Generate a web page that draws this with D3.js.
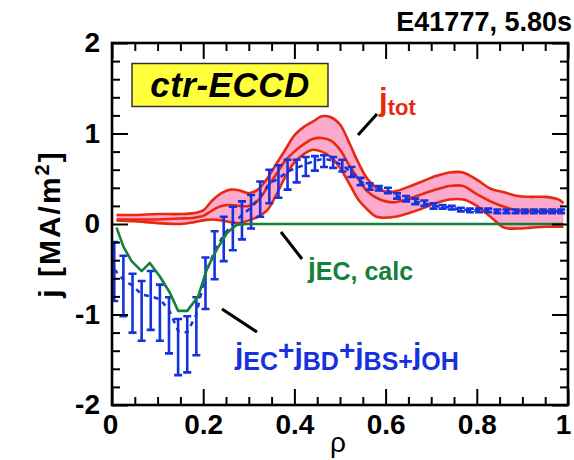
<!DOCTYPE html>
<html><head><meta charset="utf-8">
<script src="https://cdn.jsdelivr.net/npm/d3@7"></script>
<style>
html,body{margin:0;padding:0;background:#fff;}
svg{display:block;font-family:"Liberation Sans",Arial,Helvetica,sans-serif;}
</style></head><body>
<svg id="chart" width="574" height="460"></svg>
<script>
// total current density band: upper / central / lower profiles
const rhoTot    = [0.01,0.05,0.10,0.15,0.18,0.20,0.22,0.24,0.26,0.28,0.30,0.32,0.34,0.36,0.38,0.40,0.42,0.44,0.46,0.48,0.50,0.52,0.54,0.56,0.58,0.60,0.62,0.65,0.68,0.71,0.74,0.77,0.80,0.83,0.86,0.89,0.92,0.95,0.98,0.99];
const jTotUpper = [0.10,0.10,0.11,0.11,0.12,0.15,0.26,0.34,0.38,0.37,0.34,0.38,0.50,0.66,0.82,0.98,1.07,1.13,1.19,1.18,1.10,0.90,0.68,0.50,0.40,0.36,0.36,0.41,0.47,0.53,0.57,0.57,0.49,0.39,0.35,0.31,0.30,0.30,0.27,0.23];
const jTotMid   = [0.05,0.05,0.05,0.06,0.07,0.09,0.15,0.20,0.21,0.20,0.20,0.26,0.40,0.55,0.70,0.80,0.88,0.94,0.95,0.92,0.82,0.65,0.50,0.36,0.29,0.25,0.24,0.28,0.33,0.38,0.42,0.42,0.33,0.25,0.19,0.15,0.14,0.14,0.14,0.14];
const jTotLower = [0.04,0.03,0.01,0.00,0.02,0.04,0.05,0.04,0.02,0.01,0.04,0.08,0.15,0.32,0.52,0.68,0.77,0.82,0.80,0.74,0.62,0.45,0.27,0.16,0.08,0.07,0.08,0.12,0.17,0.23,0.27,0.27,0.20,0.08,-0.04,-0.05,-0.04,-0.03,-0.03,-0.03];

// calculated EC-driven current
const rhoEC   = [0.010,0.025,0.043,0.065,0.083,0.105,0.127,0.145,0.165,0.189,0.208,0.230,0.252,0.273,0.295,0.50,0.99];
const jECcalc = [-0.04,-0.25,-0.41,-0.52,-0.43,-0.58,-0.76,-0.96,-0.96,-0.80,-0.50,-0.28,-0.10,-0.01,0.00,0.00,0.00];

// j_EC + j_BD + j_BS + j_OH with error bars
const rhoSum = [0.005,0.025,0.045,0.065,0.085,0.105,0.125,0.145,0.165,0.185,0.205,0.225,0.245,0.265,0.285,0.305,0.325,0.345,0.365,0.385,0.405,0.425,0.445,0.465,0.485,0.505,0.525,0.545,0.565,0.585,0.605,0.625,0.645,0.665,0.685,0.705,0.725,0.745,0.765,0.785,0.805,0.825,0.845,0.865,0.885,0.905,0.925,0.945,0.965,0.985];
const jSum   = [-0.50,-0.62,-0.68,-0.78,-0.80,-0.83,-0.95,-1.18,-1.20,-1.00,-0.55,-0.30,-0.12,0.00,0.10,0.18,0.30,0.45,0.50,0.58,0.62,0.66,0.70,0.72,0.70,0.65,0.57,0.47,0.42,0.40,0.37,0.31,0.28,0.25,0.23,0.20,0.19,0.18,0.16,0.15,0.15,0.15,0.14,0.14,0.14,0.14,0.14,0.14,0.14,0.14];
const jSumHi = [-0.20,-0.35,-0.55,-0.63,-0.52,-0.67,-0.81,-1.05,-1.02,-0.81,-0.37,-0.08,0.08,0.19,0.25,0.32,0.47,0.60,0.65,0.71,0.71,0.74,0.75,0.76,0.74,0.71,0.63,0.51,0.45,0.42,0.40,0.34,0.31,0.28,0.26,0.23,0.21,0.20,0.18,0.17,0.17,0.17,0.16,0.16,0.16,0.16,0.16,0.16,0.16,0.16];
const jSumLo = [-0.85,-1.02,-1.20,-1.29,-1.17,-1.29,-1.43,-1.67,-1.64,-1.45,-0.94,-0.61,-0.41,-0.29,-0.17,-0.05,0.08,0.23,0.29,0.38,0.46,0.53,0.59,0.63,0.62,0.58,0.52,0.43,0.38,0.37,0.34,0.28,0.25,0.22,0.20,0.17,0.17,0.16,0.14,0.13,0.13,0.13,0.12,0.12,0.12,0.12,0.12,0.12,0.12,0.12];

const xMajor = [0,0.2,0.4,0.6,0.8,1];
const xMinor = [0.05,0.1,0.15,0.25,0.3,0.35,0.45,0.5,0.55,0.65,0.7,0.75,0.85,0.9,0.95];
const yMajor = [-2,-1,0,1,2];
const yMinor = [-1.8,-1.6,-1.4,-1.2,-0.8,-0.6,-0.4,-0.2,0.2,0.4,0.6,0.8,1.2,1.4,1.6,1.8];

const RED = "#e8290f", PINK = "#fcaacd", BLUE = "#1632dc", GREEN = "#14803a";

const svg = d3.select("#chart");
const L = 112, R = 568, T = 43, B = 405;
const x = d3.scaleLinear().domain([0, 1]).range([L, R]);
const y = d3.scaleLinear().domain([-2, 2]).range([B, T]);

const plot = svg.append("g");
svg.append("clipPath").attr("id", "clip")
  .append("rect").attr("x", L).attr("y", T).attr("width", R - L).attr("height", B - T);
plot.attr("clip-path", "url(#clip)");

// pink uncertainty band
const band = rhoTot.map((r, i) => ({r, lo: jTotLower[i], mid: jTotMid[i], hi: jTotUpper[i]}));
const curve = d3.curveCatmullRom.alpha(0.5);
plot.append("path").datum(band)
  .attr("fill", PINK)
  .attr("d", d3.area().curve(curve).x(d => x(d.r)).y0(d => y(d.lo)).y1(d => y(d.hi)));
["hi", "mid", "lo"].forEach(k => {
  plot.append("path").datum(band)
    .attr("fill", "none").attr("stroke", RED).attr("stroke-width", 2.6)
    .attr("d", d3.line().curve(curve).x(d => x(d.r)).y(d => y(d[k])));
});

// blue sum profile: dashed centre line and error bars
const pts = rhoSum.map((r, i) => ({r, v: jSum[i], lo: jSumLo[i], hi: jSumHi[i]}));
plot.append("path").datum(pts)
  .attr("fill", "none").attr("stroke", BLUE).attr("stroke-width", 2.5)
  .attr("stroke-dasharray", "5,5")
  .attr("d", d3.line().x(d => x(d.r)).y(d => y(d.v)));
const eb = plot.append("g").attr("stroke", BLUE).attr("stroke-width", 2.6).attr("fill", "none");
pts.forEach(d => {
  const cx = x(d.r), cw = 4;
  eb.append("path").attr("d",
    `M${cx},${y(d.hi)}V${y(d.lo)}M${cx - cw},${y(d.hi)}H${cx + cw}M${cx - cw},${y(d.lo)}H${cx + cw}`);
});

// calculated EC current
plot.append("path").datum(rhoEC.map((r, i) => [r, jECcalc[i]]))
  .attr("fill", "none").attr("stroke", GREEN).attr("stroke-width", 2.6)
  .attr("stroke-linejoin", "round")
  .attr("d", d3.line().x(d => x(d[0])).y(d => y(d[1])));

// axes with inward ticks on all four sides
const fmt = d => String(d);
function styleAxis(g) {
  g.select(".domain").remove();
  g.selectAll(".tick line").attr("stroke", "#000").attr("stroke-width", 2);
  g.selectAll("text").attr("fill", "#000").attr("font-size", 28).attr("font-weight", "bold")
    .attr("font-family", '"Liberation Sans",Arial,sans-serif');
}
svg.append("g").attr("transform", `translate(0,${B})`)
  .call(d3.axisBottom(x).tickValues(xMinor).tickSize(-8).tickFormat(""))
  .call(styleAxis);
const xAxisG = svg.append("g").attr("transform", `translate(0,${B})`)
  .call(d3.axisBottom(x).tickValues(xMajor).tickSize(-16).tickPadding(9).tickFormat(fmt))
  .call(styleAxis);
// keep the end labels inside the canvas
xAxisG.selectAll(".tick text").attr("dx", d => d === 1 ? -5 : (d === 0 ? -2 : 0));
svg.append("g").attr("transform", `translate(0,${T})`)
  .call(d3.axisTop(x).tickValues(xMinor).tickSize(-8).tickFormat(""))
  .call(styleAxis);
svg.append("g").attr("transform", `translate(0,${T})`)
  .call(d3.axisTop(x).tickValues(xMajor).tickSize(-16).tickFormat(""))
  .call(styleAxis);
svg.append("g").attr("transform", `translate(${L},0)`)
  .call(d3.axisLeft(y).tickValues(yMinor).tickSize(-8).tickFormat(""))
  .call(styleAxis);
svg.append("g").attr("transform", `translate(${L},0)`)
  .call(d3.axisLeft(y).tickValues(yMajor).tickSize(-16).tickPadding(12).tickFormat(fmt))
  .call(styleAxis);
svg.append("g").attr("transform", `translate(${R},0)`)
  .call(d3.axisRight(y).tickValues(yMinor).tickSize(-8).tickFormat(""))
  .call(styleAxis);
svg.append("g").attr("transform", `translate(${R},0)`)
  .call(d3.axisRight(y).tickValues(yMajor).tickSize(-16).tickFormat(""))
  .call(styleAxis);

svg.append("rect").attr("x", L).attr("y", T).attr("width", R - L).attr("height", B - T)
  .attr("fill", "none").attr("stroke", "#000").attr("stroke-width", 2.6);

// axis titles
svg.append("text").attr("x", 338).attr("y", 452).attr("text-anchor", "middle")
  .attr("font-size", 28).text("ρ");
const yl = svg.append("text").attr("transform", "translate(60,224) rotate(-90)")
  .attr("text-anchor", "middle").attr("font-size", 30).attr("font-weight", "bold")
  .attr("letter-spacing", 2);
yl.append("tspan").text("j [MA/m");
yl.append("tspan").attr("font-size", 20).attr("dy", -11).text("2");
yl.append("tspan").attr("dy", 11).text("]");

// shot / time stamp
svg.append("text").attr("x", 572).attr("y", 31).attr("text-anchor", "end")
  .attr("font-size", 27).attr("font-weight", "bold").text("E41777, 5.80s");

// scenario box
svg.append("rect").attr("x", 132).attr("y", 63.5).attr("width", 196).attr("height", 43)
  .attr("fill", "#ffff3c").attr("stroke", "#333").attr("stroke-width", 1.5);
svg.append("text").attr("x", 230).attr("y", 97).attr("text-anchor", "middle")
  .attr("font-size", 35).attr("font-weight", "bold").attr("font-style", "italic")
  .attr("letter-spacing", 0.5)
  .text("ctr-ECCD");

// curve labels and leaders
const leader = (x1, y1, x2, y2) => svg.append("line")
  .attr("x1", x1).attr("y1", y1).attr("x2", x2).attr("y2", y2)
  .attr("stroke", "#000").attr("stroke-width", 3);
leader(358, 135, 377, 114);
leader(281, 232, 302, 259);
leader(222, 309, 257, 332);

const tTot = svg.append("text").attr("fill", RED).attr("font-weight", "bold");
tTot.append("tspan").attr("x", 379).attr("y", 110).attr("font-size", 31).text("j");
tTot.append("tspan").attr("y", 115).attr("font-size", 22).text("tot");

const tEC = svg.append("text").attr("fill", GREEN).attr("font-weight", "bold");
tEC.append("tspan").attr("x", 308).attr("y", 277).attr("font-size", 28).text("j");
tEC.append("tspan").attr("y", 280).attr("font-size", 25).text("EC, calc");

const tSum = svg.append("text").attr("fill", BLUE).attr("font-weight", "bold");
const parts = [["j",30,364],["EC",25,370],["+",28,360],["j",30,364],["BD",25,370],["+",28,360],
               ["j",30,364],["BS+",25,370],["j",30,364],["OH",25,370]];
parts.forEach((p, i) => {
  const s = tSum.append("tspan").attr("y", p[2]).attr("font-size", p[1]).text(p[0]);
  if (i === 0) s.attr("x", 235);
});
</script>
</body></html>
